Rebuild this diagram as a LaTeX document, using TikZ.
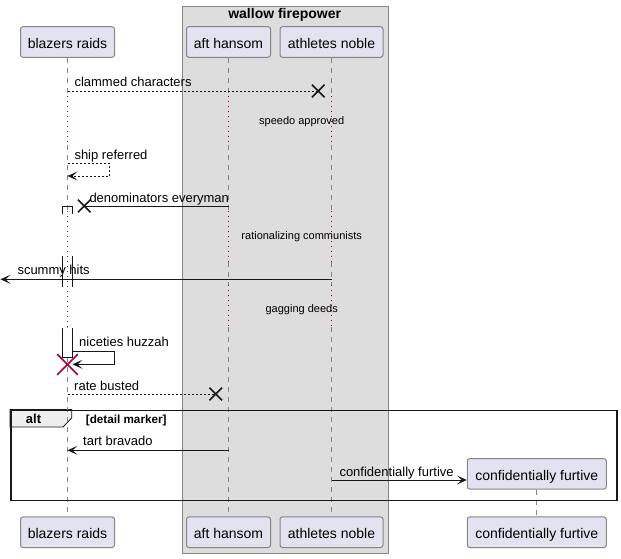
\documentclass[tikz,border=0pt]{standalone}
\usepackage{fontspec}
\setmainfont{Liberation Sans}
\usetikzlibrary{arrows.meta,shapes.misc}
\definecolor{partfill}{HTML}{E2E2F0}
\definecolor{groupfill}{HTML}{DDDDDD}
\definecolor{linecol}{HTML}{181818}
\definecolor{bordcol}{HTML}{858585}
\definecolor{delaycol}{HTML}{A80036}
\definecolor{tabfill}{HTML}{EEEEEE}

\begin{document}
\begin{tikzpicture}[x=1pt, y=-1pt,
  part/.style={draw=bordcol, line width=1pt, fill=partfill, rounded corners=2.5pt, minimum height=30.6pt, inner sep=0pt, text height=12.6pt, text depth=0pt, font=\fontsize{14}{16}\selectfont},
  life/.style={bordcol, line width=1pt, dash pattern=on 5pt off 5pt},
  delayline/.style={delaycol, line width=1pt, dash pattern=on 1pt off 4pt},
  msg/.style={linecol, line width=1pt, -{Stealth[length=10pt, width=9pt, inset=5pt]}},
  msgdash/.style={msg, dash pattern=on 2pt off 2pt},
  lostline/.style={linecol, line width=1pt},
  lostdash/.style={lostline, dash pattern=on 2pt off 2pt},
  killx/.style={cross out, draw=linecol, line width=1.6pt, minimum size=11pt, inner sep=0pt},
  lbl/.style={anchor=base west, inner sep=0pt, font=\fontsize{13}{15}\selectfont},
  delaytxt/.style={anchor=base, inner sep=0pt, font=\fontsize{11}{13}\selectfont},
  actbox/.style={linecol, line width=1pt}]
  \useasboundingbox (0,0) rectangle (621,558);

  \node[draw=bordcol, line width=1pt, fill=groupfill, minimum width=205.2pt, minimum height=547pt, anchor=north west, inner sep=0pt] (wf) at (182.3,6) {};
  \node[anchor=base, inner sep=0pt, font=\fontsize{14}{16}\selectfont\bfseries] (wft) at (284.7,18) {wallow firepower};

  \filldraw[fill=tabfill, draw=linecol, line width=0.8pt] (10,409.5) -- (71.7,409.5) -- (71.7,418) -- (63,427) -- (10,427) -- cycle;

  \node[part, minimum width=94pt] (br) at (67.5,42) {blazers raids};
  \node[part, minimum width=84pt] (ah) at (228.5,42) {aft hansom};
  \node[part, minimum width=103pt] (an) at (331.5,42) {athletes noble};
  \node[part, minimum width=94pt] (br2) at (67.5,532.2) {blazers raids};
  \node[part, minimum width=84pt] (ah2) at (228.5,532.2) {aft hansom};
  \node[part, minimum width=103pt] (an2) at (331.5,532.2) {athletes noble};
  \node[part, minimum width=139pt] (cf) at (536.8,473.8) {confidentially furtive};
  \node[part, minimum width=139pt] (cf2) at (536.8,532.2) {confidentially furtive};

  \coordinate (d1a) at (0,96);
  \coordinate (d1b) at (0,145);
  \coordinate (d2a) at (0,211);
  \coordinate (d2b) at (0,262);
  \coordinate (d3a) at (0,285);
  \coordinate (d3b) at (0,327);

  \foreach \p/\q in {ah/ah2, an/an2} {
    \draw[life] (\p.south) -- (\p |- d1a);
    \draw[delayline] (\p |- d1a) -- (\p |- d1b);
    \draw[life] (\p |- d1b) -- (\p |- d2a);
    \draw[delayline] (\p |- d2a) -- (\p |- d2b);
    \draw[life] (\p |- d2b) -- (\p |- d3a);
    \draw[delayline] (\p |- d3a) -- (\p |- d3b);
    \draw[life] (\p |- d3b) -- (\q.north);
  }
  \draw[life] (br.south) -- (br |- d1a);
  \draw[delayline] (br |- d1a) -- (br |- d1b);
  \draw[life] (br |- d1b) -- (br |- d2a);
  \draw[delayline] (br |- d2a) -- (br |- d3b);
  \draw[life] (br |- d3b) -- (br2.north);
  \draw[life] (cf.south) -- (cf2.north);

  \node[draw=linecol, line width=1.5pt, minimum width=606pt, minimum height=90pt, anchor=north west, inner sep=0pt] (alt) at (10,409.5) {};
  \node[anchor=base, inner sep=0pt, font=\fontsize{13}{15}\selectfont\bfseries] (altt) at (33.5,423) {alt};
  \node[anchor=base west, inner sep=0pt, font=\fontsize{11.7}{13}\selectfont\bfseries] (altg) at (85.7,423) {[detail marker]};

  \node[killx] (x1) at (318.3,91) {};
  \draw[lostdash] (br |- x1) -- (x1.center);
  \node[lbl] (t1) at (74.3,86) {clammed characters};

  \node[delaytxt] (dt1) at (301.7,124.5) {speedo approved};

  \coordinate (s1) at (109.3,163.3);
  \coordinate (s2) at (109.3,176);
  \draw[msgdash] (br |- s1) -- (s1) -- (s2) -- (br |- s2);
  \node[lbl] (t2) at (74.3,159) {ship referred};

  \node[killx] (x2) at (84.3,206) {};
  \draw[lostline] (ah |- x2) -- (x2.center);
  \node[lbl] (t3) at (89.3,202) {denominators everyman};
  \draw[actbox] (62.5,214) -- (62.5,206.5) -- (72.5,206.5) -- (72.5,214);

  \node[delaytxt] (dt2) at (301.7,239.5) {rationalizing communists};

  \coordinate (edge) at (0.5,279.3);
  \node[lbl] (t4) at (17.3,274.3) {scummy hits};
  \draw[msg] (an |- edge) -- (edge);
  \draw[actbox] (62.5,256) -- (62.5,287) (72.5,256) -- (72.5,287);

  \node[delaytxt] (dt3) at (301.7,312) {gagging deeds};

  \filldraw[actbox, fill=white] (62.5,328) -- (62.5,357) -- (72.5,357) -- (72.5,328);
  \coordinate (n0) at (72.5,351);
  \coordinate (n1) at (114.3,351);
  \coordinate (n2) at (114.3,364.3);
  \draw[msg] (n0) -- (n1) -- (n2) -- (n0 |- n2);
  \node[lbl] (t5) at (79,346) {niceties huzzah};
  \node[killx, draw=delaycol, minimum size=19pt] (xd) at (67.5,364.5) {};

  \node[killx] (x3) at (215.7,394) {};
  \draw[lostdash] (br |- x3) -- (x3.center);
  \node[lbl] (t6) at (74,390) {rate busted};

  \coordinate (tb) at (0,450.3);
  \draw[msg] (ah |- tb) -- (br |- tb);
  \node[lbl] (t7) at (83,445.5) {tart bravado};

  \coordinate (cfa) at (0,480);
  \draw[msg] (an |- cfa) -- (cf.west |- cfa);
  \node[lbl] (t8) at (339.3,476) {confidentially furtive};
\end{tikzpicture}
\end{document}
